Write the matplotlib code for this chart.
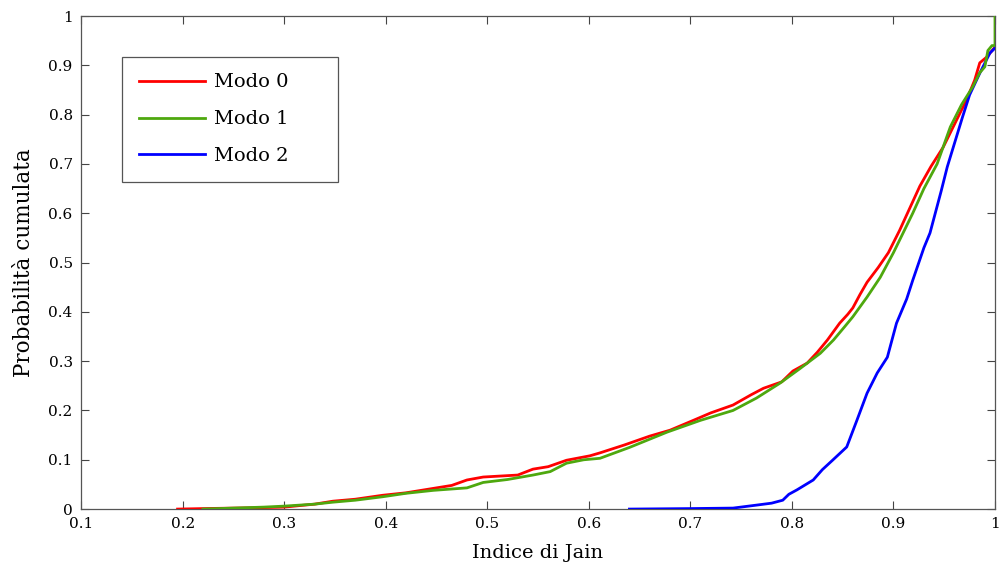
import numpy as np
import matplotlib
matplotlib.use('Agg')
import matplotlib.pyplot as plt

# CDF curves (Jain index, cumulative probability)
modo0_x = [0.195, 0.22, 0.25, 0.28, 0.30, 0.33, 0.348, 0.37, 0.397, 0.42, 0.447, 0.465, 0.48, 0.496,
           0.53, 0.545, 0.56, 0.578, 0.601, 0.611, 0.635, 0.66, 0.68, 0.703, 0.72, 0.742, 0.76, 0.772,
           0.79, 0.801, 0.815, 0.825, 0.835, 0.847, 0.855, 0.86, 0.867, 0.874, 0.885, 0.895, 0.906,
           0.916, 0.926, 0.937, 0.949, 0.96, 0.972, 0.98, 0.985, 0.992, 1.0]
modo0_y = [0.0, 0.001, 0.002, 0.003, 0.004, 0.010, 0.016, 0.020, 0.028, 0.033, 0.042, 0.048, 0.059, 0.065,
           0.069, 0.081, 0.086, 0.099, 0.108, 0.114, 0.130, 0.148, 0.160, 0.180, 0.195, 0.211, 0.232, 0.245,
           0.258, 0.280, 0.296, 0.318, 0.343, 0.377, 0.395, 0.408, 0.435, 0.460, 0.490, 0.520, 0.565,
           0.610, 0.655, 0.695, 0.734, 0.780, 0.830, 0.870, 0.905, 0.917, 0.937]

modo1_x = [0.22, 0.25, 0.28, 0.30, 0.33, 0.348, 0.37, 0.397, 0.42, 0.447, 0.48, 0.496, 0.52, 0.545,
           0.562, 0.578, 0.595, 0.611, 0.64, 0.677, 0.71, 0.742, 0.765, 0.788, 0.808, 0.828, 0.841,
           0.852, 0.86, 0.874, 0.887, 0.90, 0.919, 0.93, 0.943, 0.956, 0.967, 0.978, 0.985, 0.99,
           0.993, 0.997, 1.0, 1.0]
modo1_y = [0.0, 0.002, 0.004, 0.006, 0.010, 0.014, 0.018, 0.025, 0.032, 0.038, 0.043, 0.054, 0.060, 0.069,
           0.076, 0.093, 0.100, 0.103, 0.125, 0.156, 0.180, 0.200, 0.225, 0.255, 0.285, 0.316, 0.343,
           0.370, 0.390, 0.430, 0.470, 0.520, 0.600, 0.650, 0.700, 0.775, 0.820, 0.856, 0.885, 0.897,
           0.930, 0.940, 0.940, 1.0]

modo2_x = [0.64, 0.70, 0.742, 0.765, 0.78, 0.791, 0.797, 0.805, 0.821, 0.83, 0.84, 0.854, 0.864, 0.874,
           0.884, 0.894, 0.903, 0.913, 0.919, 0.93, 0.936, 0.947, 0.953, 0.968, 0.975, 0.985, 0.995, 1.0]
modo2_y = [0.0, 0.001, 0.002, 0.008, 0.012, 0.018, 0.030, 0.039, 0.059, 0.080, 0.099, 0.126, 0.180, 0.235,
           0.276, 0.308, 0.377, 0.426, 0.464, 0.530, 0.560, 0.645, 0.694, 0.795, 0.840, 0.884, 0.925, 0.935]

xticks = [0.1, 0.2, 0.3, 0.4, 0.5, 0.6, 0.7, 0.8, 0.9, 1.0]
xlabels = ['0.1', '0.2', '0.3', '0.4', '0.5', '0.6', '0.7', '0.8', '0.9', '1']
yticks = [0.0, 0.1, 0.2, 0.3, 0.4, 0.5, 0.6, 0.7, 0.8, 0.9, 1.0]
ylabels = ['0', '0.1', '0.2', '0.3', '0.4', '0.5', '0.6', '0.7', '0.8', '0.9', '1']

plt.rcParams['font.family'] = ['DejaVu Serif']

fig = plt.figure(figsize=(10.01, 5.72), dpi=100)
ax = fig.add_axes([0.081, 0.110, 0.913, 0.862])

ax.plot(modo0_x, modo0_y, color='#ff0000', lw=2.0, label='Modo 0', zorder=3)
ax.plot(modo1_x, modo1_y, color='#4ea80e', lw=2.0, label='Modo 1', zorder=5)
ax.plot(modo2_x, modo2_y, color='#0000ff', lw=2.0, label='Modo 2', zorder=4)

ax.set_xlim(0.1, 1.0)
ax.set_ylim(0.0, 1.0)
ax.set_xticks(xticks)
ax.set_xticklabels(xlabels)
ax.set_yticks(yticks)
ax.set_yticklabels(ylabels)
ax.tick_params(direction='in', length=6, width=0.8, color='#444444', labelsize=11,
               top=True, right=True, pad=6)
for spine in ax.spines.values():
    spine.set_color('#555555')
    spine.set_linewidth(0.9)

ax.set_xlabel('Indice di Jain', fontsize=14, labelpad=9)
ax.set_ylabel('Probabilità cumulata', fontsize=15.5, labelpad=10)

# legend box stretched to the reference width (MATLAB leaves room right of the text)
leg = ax.legend(loc='upper left', bbox_to_anchor=(0.045, 0.661, 0.236, 0.256), mode='expand',
                borderaxespad=0, fontsize=14, handlelength=3.4, handletextpad=0.45,
                labelspacing=0.97, fancybox=False, framealpha=1, borderpad=0.85)
leg.get_frame().set_edgecolor('#555555')
leg.get_frame().set_linewidth(0.9)

fig.savefig('out.png', dpi=100)
